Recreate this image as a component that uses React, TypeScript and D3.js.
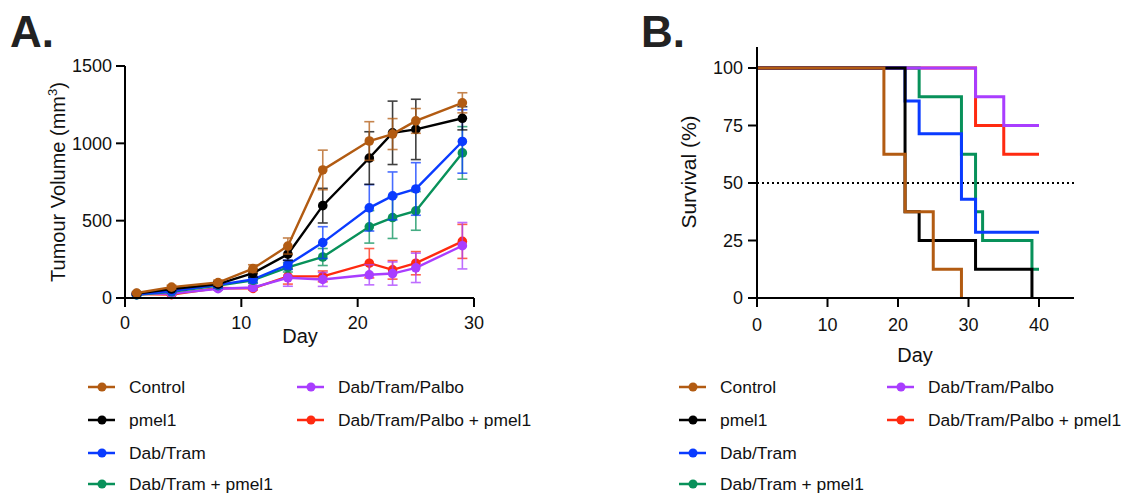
import React from "react";
import * as d3 from "d3";

// Panel A: tumour volume (mean ± SEM)
const days = [1, 4, 8, 11, 14, 17, 21, 23, 25, 29];
const groups = ["Control", "pmel1", "Dab/Tram", "Dab/Tram + pmel1", "Dab/Tram/Palbo", "Dab/Tram/Palbo + pmel1"];
const colors = ["#B25B12", "#000000", "#0A3BFF", "#08915A", "#A93DFF", "#FF2A10"];

const controlMean = [32, 70, 100, 190, 336, 828, 1015, 1060, 1145, 1262];
const controlErr = [8, 12, 15, 25, 52, 128, 125, 100, 80, 65];
const pmel1Mean = [28, 58, 90, 160, 283, 597, 905, 1068, 1090, 1162];
const pmel1Err = [6, 10, 15, 25, 40, 112, 170, 205, 195, 75];
const dabTramMean = [22, 45, 85, 120, 215, 358, 583, 660, 705, 1012];
const dabTramErr = [5, 8, 20, 20, 30, 103, 150, 155, 170, 205];
const dtPmelMean = [20, 40, 80, 115, 198, 265, 460, 520, 563, 938];
const dtPmelErr = [5, 8, 15, 20, 30, 55, 105, 135, 125, 170];
const dtpMean = [25, 28, 60, 68, 131, 120, 150, 158, 195, 338];
const dtpErr = [5, 6, 10, 12, 55, 45, 65, 75, 95, 150];
const dtpPmelMean = [25, 22, 65, 62, 140, 140, 225, 182, 225, 366];
const dtpPmelErr = [5, 5, 10, 10, 50, 35, 95, 60, 75, 110];

const means = [controlMean, pmel1Mean, dabTramMean, dtPmelMean, dtpMean, dtpPmelMean];
const errs = [controlErr, pmel1Err, dabTramErr, dtPmelErr, dtpErr, dtpPmelErr];

// Panel B: Kaplan-Meier survival (step times / survival %)
const controlSurvT = [0, 18, 21, 25, 29];
const controlSurvS = [100, 62.5, 37.5, 12.5, 0];
const pmel1SurvT = [0, 21, 23, 31, 39];
const pmel1SurvS = [100, 37.5, 25, 12.5, 0];
const dabTramSurvT = [0, 21, 23, 29, 31, 40];
const dabTramSurvS = [100, 85.7, 71.4, 42.9, 28.6, 28.6];
const dtPmelSurvT = [0, 23, 29, 31, 32, 39, 40];
const dtPmelSurvS = [100, 87.5, 62.5, 37.5, 25, 12.5, 12.5];
const dtpSurvT = [0, 31, 35, 40];
const dtpSurvS = [100, 87.5, 75, 75];
const dtpPmelSurvT = [0, 31, 35, 40];
const dtpPmelSurvS = [100, 75, 62.5, 62.5];

const survT = [controlSurvT, pmel1SurvT, dabTramSurvT, dtPmelSurvT, dtpSurvT, dtpPmelSurvT];
const survS = [controlSurvS, pmel1SurvS, dabTramSurvS, dtPmelSurvS, dtpSurvS, dtpPmelSurvS];

const volTicks = [0, 500, 1000, 1500];
const dayTicksA = [0, 10, 20, 30];
const survTicks = [0, 25, 50, 75, 100];
const dayTicksB = [0, 10, 20, 30, 40];

const font = "'Liberation Sans', Arial, Helvetica, sans-serif";

// draw order bottom -> top
const orderA = [5, 4, 3, 2, 1, 0];
const orderB = [5, 3, 2, 4, 1, 0];

function Legend({ x0, x1, rows }: { x0: number; x1: number; rows: number[] }) {
  const slots = [
    [x0, rows[0]], [x0, rows[1]], [x0, rows[2]], [x0, rows[3]],
    [x1, rows[0]], [x1, rows[1]],
  ];
  return (
    <g>
      {groups.map((g, i) => {
        const [x, y] = slots[i];
        return (
          <g key={g}>
            <line x1={x - 41} x2={x - 14} y1={y} y2={y} stroke={colors[i]} strokeWidth={2.5} />
            <circle cx={x - 27} cy={y} r={4.5} fill={colors[i]} />
            <text x={x} y={y} dy="0.35em" fontSize={17.4} fontFamily={font} fill="#111">{g}</text>
          </g>
        );
      })}
    </g>
  );
}

export default function App() {
  const xA = d3.scaleLinear().domain([0, 30]).range([125, 474]);
  const yA = d3.scaleLinear().domain([0, 1500]).range([298, 66]);
  const xB = d3.scaleLinear().domain([0, 40]).range([757, 1039]);
  const yB = d3.scaleLinear().domain([0, 100]).range([298, 68]);

  const lineA = d3.line<number>().x((_, i) => xA(days[i])).y((d) => yA(d));
  const stepB = (k: number) =>
    d3.line<number>().x((_, i) => xB(survT[k][i])).y((d) => yB(d)).curve(d3.curveStepAfter)(survS[k]) || "";

  return (
    <svg width={1124} height={485} style={{ display: "block", overflow: "visible" }}>
      <g transform="translate(-8,-8)">
        <text x={10} y={47} fontSize={44} fontWeight="bold" fontFamily={font} fill="#222">A.</text>
        <text x={641} y={47} fontSize={44} fontWeight="bold" fontFamily={font} fill="#222">B.</text>

        {/* Panel A */}
        {orderA.map((k) => (
          <g key={groups[k]}>
            {days.map((d, i) => {
              const x = xA(d);
              const y1 = yA(means[k][i] + errs[k][i]);
              const y2 = yA(Math.max(0, means[k][i] - errs[k][i]));
              return (
                <g key={d} stroke={colors[k]} strokeWidth={1.6} opacity={0.75}>
                  <line x1={x} x2={x} y1={y1} y2={y2} />
                  <line x1={x - 5} x2={x + 5} y1={y1} y2={y1} />
                  <line x1={x - 5} x2={x + 5} y1={y2} y2={y2} />
                </g>
              );
            })}
            <path d={lineA(means[k]) || ""} fill="none" stroke={colors[k]} strokeWidth={2.4} />
            {days.map((d, i) => (
              <circle key={d} cx={xA(d)} cy={yA(means[k][i])} r={4.8} fill={colors[k]} />
            ))}
          </g>
        ))}

        <g stroke="#000" strokeWidth={2} fill="none">
          <line x1={125} x2={125} y1={yA(1500)} y2={yA(0)} />
          <line x1={125} x2={xA(30)} y1={298} y2={298} />
          {volTicks.map((t) => (
            <line key={t} x1={116} x2={125} y1={yA(t)} y2={yA(t)} />
          ))}
          {dayTicksA.map((t) => (
            <line key={t} x1={xA(t)} x2={xA(t)} y1={298} y2={307} />
          ))}
        </g>
        {volTicks.map((t) => (
          <text key={t} x={112} y={yA(t)} dy="0.36em" textAnchor="end" fontSize={18} fontFamily={font} fill="#111">{t}</text>
        ))}
        {dayTicksA.map((t) => (
          <text key={t} x={xA(t)} y={323} dy="0.36em" textAnchor="middle" fontSize={18} fontFamily={font} fill="#111">{t}</text>
        ))}
        <text x={300} y={336} dy="0.36em" textAnchor="middle" fontSize={20} fontFamily={font} fill="#111">Day</text>
        <text transform="translate(58,182) rotate(-90)" textAnchor="middle" dy="0.36em" fontSize={20} fontFamily={font} fill="#111">
          Tumour Volume (mm<tspan fontSize={13} dy="-8">3</tspan><tspan dy="8">)</tspan>
        </text>

        {/* Panel B */}
        <line x1={757} x2={1074} y1={yB(50)} y2={yB(50)} stroke="#000" strokeWidth={2} strokeDasharray="2,3" />
        {orderB.map((k) => (
          <path key={groups[k]} d={stepB(k)} fill="none" stroke={colors[k]} strokeWidth={3} />
        ))}
        <g stroke="#000" strokeWidth={2} fill="none">
          <line x1={757} x2={757} y1={47} y2={298} />
          <line x1={757} x2={1074} y1={298} y2={298} />
          {survTicks.map((t) => (
            <line key={t} x1={748} x2={757} y1={yB(t)} y2={yB(t)} />
          ))}
          {dayTicksB.map((t) => (
            <line key={t} x1={xB(t)} x2={xB(t)} y1={298} y2={307} />
          ))}
        </g>
        {survTicks.map((t) => (
          <text key={t} x={743} y={yB(t)} dy="0.36em" textAnchor="end" fontSize={18} fontFamily={font} fill="#111">{t}</text>
        ))}
        {dayTicksB.map((t) => (
          <text key={t} x={xB(t)} y={325} dy="0.36em" textAnchor="middle" fontSize={18} fontFamily={font} fill="#111">{t}</text>
        ))}
        <text x={915} y={355} dy="0.36em" textAnchor="middle" fontSize={20} fontFamily={font} fill="#111">Day</text>
        <text transform="translate(688,172) rotate(-90)" textAnchor="middle" dy="0.36em" fontSize={21} fontFamily={font} fill="#111">Survival (%)</text>

        <Legend x0={129} x1={338} rows={[387, 420, 453, 484]} />
        <Legend x0={720} x1={928} rows={[387, 420, 453, 484]} />
      </g>
    </svg>
  );
}
